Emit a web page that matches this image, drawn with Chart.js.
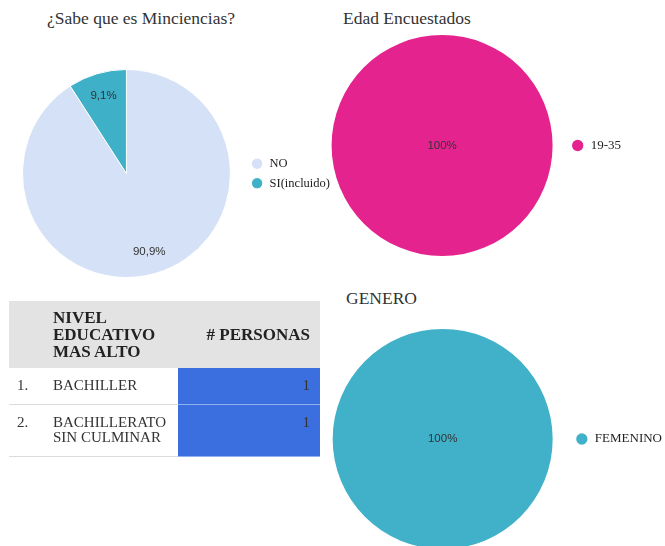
<!DOCTYPE html>
<html>
<head>
<meta charset="utf-8">
<script src="https://cdn.jsdelivr.net/npm/chart.js@4"></script>
<style>
  html, body { margin: 0; padding: 0; background: #fff; overflow: hidden; }
  body { width: 665px; height: 546px; position: relative; font-family: "Liberation Serif", serif; color: #333; }
  .title { position: absolute; font-size: 17.5px; color: #333; white-space: nowrap; line-height: 20px; }
  canvas { position: absolute; }
  table { position: absolute; left: 9px; top: 301px; width: 311px; border-collapse: collapse; }
  th { background: #e3e3e3; font-weight: bold; font-size: 17px; line-height: 17px; color: #222; text-align: left; vertical-align: middle; padding: 0 8px; height: 67px; }
  th.num { text-align: right; padding-right: 10px; }
  td { font-size: 15px; line-height: 15px; vertical-align: top; padding: 10px 8px 11px 8px; border-bottom: 1px solid #dcdcdc; color: #333; }
  td.idx { width: 20px; }
  td.val { background: #3b6fe0; text-align: right; padding-right: 10px; border-bottom: 1px solid #8fb1ee; width: 124px; }
</style>
</head>
<body>
<div class="title" style="left:47px; top:8px;">¿Sabe que es Minciencias?</div>
<div class="title" style="left:343px; top:8px;">Edad Encuestados</div>
<div class="title" style="left:346px; top:288px;">GENERO</div>

<canvas id="saber" width="340" height="227" style="left:0px; top:60px;"></canvas>
<canvas id="edad" width="318" height="239" style="left:313px; top:26px;"></canvas>
<canvas id="genero" width="363" height="238" style="left:309px; top:320px;"></canvas>

<table id="nivel"></table>

<script>
const saberLabels = ["NO", "SI(incluido)"];
const saberValues = [10, 1];
const saberColors = ["#d5e1f6", "#3eb0c8"];

const edadLabels = ["19-35"];
const edadValues = [1];
const edadColors = ["#e4238e"];

const generoLabels = ["FEMENINO"];
const generoValues = [1];
const generoColors = ["#40b1c9"];

const nivelHeaders = ["", "NIVEL<br>EDUCATIVO<br>MAS ALTO", "# PERSONAS"];
const nivelLabels = ["BACHILLER", "BACHILLERATO<br>SIN CULMINAR"];
const nivelPersonas = [1, 1];

// porcentaje dentro de cada rebanada
const sliceLabels = {
  id: "sliceLabels",
  afterDatasetsDraw(chart) {
    const ctx = chart.ctx;
    const data = chart.data.datasets[0].data;
    const total = data.reduce((a, b) => a + b, 0);
    ctx.save();
    ctx.font = "11.5px 'Liberation Sans', Arial, sans-serif";
    ctx.fillStyle = "#333";
    ctx.textAlign = "center";
    ctx.textBaseline = "middle";
    chart.getDatasetMeta(0).data.forEach((arc, i) => {
      const p = arc.getProps(["x", "y", "startAngle", "endAngle", "outerRadius"], true);
      const pct = data[i] / total * 100;
      const txt = (Number.isInteger(pct) ? pct : pct.toFixed(1).replace(".", ",")) + "%";
      let x = p.x, y = p.y;
      if (data[i] !== total) {
        const mid = (p.startAngle + p.endAngle) / 2;
        x += Math.cos(mid) * p.outerRadius * 0.78;
        y += Math.sin(mid) * p.outerRadius * 0.78;
      }
      ctx.fillText(txt, x, y);
    });
    ctx.restore();
  },
};

function buildPie(id, labels, values, colors, padLeft, fontSize) {
  const ctx = document.getElementById(id).getContext("2d");
  new Chart(ctx, {
    type: "pie",
    data: {
      labels: labels,
      datasets: [
        {
          data: values,
          backgroundColor: colors,
          borderColor: "#fff",
          borderWidth: values.length > 1 ? 1 : 0,
        },
      ],
    },
    options: {
      responsive: false,
      animation: false,
      layout: { padding: { left: padLeft, top: 9, bottom: 9, right: 0 } },
      plugins: {
        tooltip: { enabled: false },
        legend: {
          position: "right",
          labels: {
            usePointStyle: true,
            pointStyle: "circle",
            boxHeight: 8,
            padding: 7,
            color: "#222",
            font: { family: "'Liberation Serif', serif", size: fontSize },
          },
        },
      },
    },
    plugins: [sliceLabels],
  });
}

buildPie("saber", saberLabels, saberValues, saberColors, 9, 12.5);
buildPie("edad", edadLabels, edadValues, edadColors, 7, 13);
buildPie("genero", generoLabels, generoValues, generoColors, 8, 13);

// tabla de nivel educativo
function buildTable() {
  const table = document.getElementById("nivel");
  let html = "<tr>";
  nivelHeaders.forEach((h, i) => {
    html += `<th${i === 2 ? ' class="num"' : ""}>${h}</th>`;
  });
  html += "</tr>";
  nivelLabels.forEach((label, i) => {
    html += `<tr>
      <td class="idx">${i + 1}.</td>
      <td>${label}</td>
      <td class="val">${nivelPersonas[i]}</td>
    </tr>`;
  });
  table.innerHTML = html;
}

buildTable();
</script>
</body>
</html>
